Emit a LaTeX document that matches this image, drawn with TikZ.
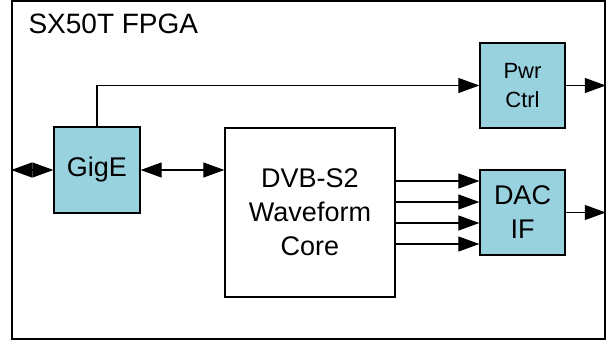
\documentclass[tikz,border=0pt]{standalone}
\usepackage{fontspec}
\setmainfont{Liberation Sans}
\usetikzlibrary{arrows.meta}
\definecolor{blk}{RGB}{153,210,223}
\begin{document}
\begin{tikzpicture}[x=1pt,y=-1pt,
  box/.style={draw, line width=1.3pt, inner sep=0pt, align=center},
  blue/.style={box, fill=blk},
  arr/.style={line width=1.1pt, -{Triangle[length=21pt,width=15pt]}},
  darr/.style={line width=1.1pt, {Triangle[length=21pt,width=15pt]}-{Triangle[length=21pt,width=15pt]}},
  big/.style={font=\fontsize{27}{34}\selectfont},
  small/.style={font=\fontsize{22}{29}\selectfont}]
\useasboundingbox (0,0) rectangle (608,343);
\node[box, line width=1.6pt, minimum width=593pt, minimum height=338pt] (fpga) at (308.5,170) {};
\node[anchor=base west, font=\fontsize{28}{34}\selectfont] (title) at (25,33) {SX50T FPGA};
\node[blue, big, minimum width=86pt, minimum height=86pt] (gige) at (97,170) {GigE};
\node[box, big, minimum width=170pt, minimum height=169pt] (dvb) at (310,212.5) {DVB-S2\\Waveform\\Core};
\node[blue, small, minimum width=85pt, minimum height=85pt] (pwr) at (522.5,85.5) {Pwr\\Ctrl};
\node[blue, big, minimum width=85pt, minimum height=85pt] (dac) at (522.5,212.5) {DAC\\IF};
\draw[darr] (fpga.west |- gige.center) -- (gige.west);
\draw[darr] (gige.east) -- (dvb.west |- gige.east);
\draw[arr] (gige.north) |- (pwr.west);
\draw[arr] (pwr.east) -- (pwr.east -| fpga.east);
\draw[arr] (dac.east) -- (dac.east -| fpga.east);
\foreach \y/\n in {181/a,202/b,223/c,244/d}{
  \coordinate (s\n) at (dvb.east |- 0,\y);
  \coordinate (t\n) at (dac.west |- 0,\y);
  \draw[arr] (s\n) -- (t\n);
}
\end{tikzpicture}
\end{document}
